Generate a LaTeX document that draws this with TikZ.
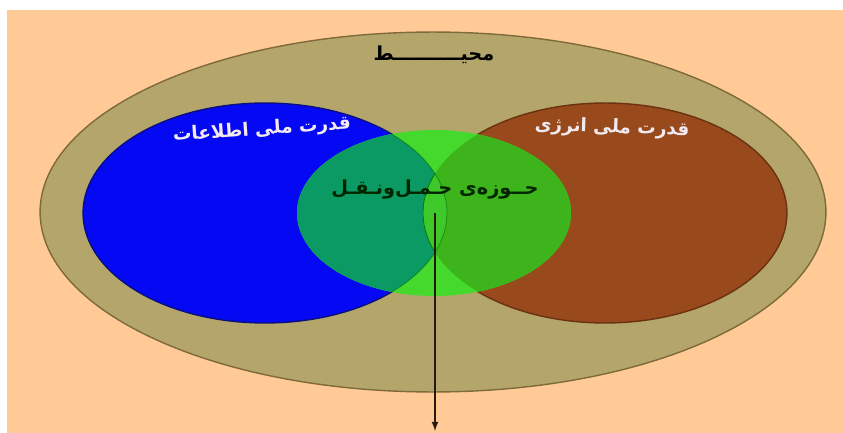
\documentclass[tikz,border=0pt]{standalone}
\usepackage{fontspec}
\TeXXeTstate=1
\newfontfamily\arabicfont[Script=Arabic]{DejaVu Sans}

\definecolor{peach}{HTML}{FFCA96}
\definecolor{envfill}{HTML}{B4A56B}
\definecolor{envedge}{HTML}{7E6A3A}
\definecolor{infoblue}{HTML}{0508F2}
\definecolor{infoedge}{HTML}{0A0F80}
\definecolor{energybrown}{HTML}{984A1C}
\definecolor{energyedge}{HTML}{6A3210}
\definecolor{transgreen}{HTML}{45D92E}
\definecolor{infogreen}{HTML}{0C9A64}
\definecolor{energygreen}{HTML}{3DB41B}
\definecolor{whitetext}{HTML}{F2EAF0}

\tikzset{
  label/.style={font=\arabicfont\bfseries\fontsize{11}{13}\selectfont, inner sep=1pt},
  powerlabel/.style={label, font=\arabicfont\bfseries\fontsize{10.5}{12}\selectfont, text=whitetext},
}

\begin{document}
\begin{tikzpicture}[x=0.02cm,y=-0.02cm]
    \useasboundingbox (0,0) rectangle (843,433);
    \fill[white] (0,0) rectangle (843,433);
    \fill[peach] (7,10) rectangle (843,433);
    % environment
    \filldraw[fill=envfill,draw=envedge,thick] (433,212) ellipse [x radius=7.86cm,y radius=3.6cm];
    % the two national powers
    \filldraw[fill=infoblue,draw=infoedge,thick] (265,213) ellipse [x radius=3.64cm,y radius=2.2cm];
    \filldraw[fill=energybrown,draw=energyedge,thick] (605,213) ellipse [x radius=3.64cm,y radius=2.2cm];
    % transport domain
    \fill[transgreen] (434,213) ellipse [x radius=2.74cm,y radius=1.66cm];
    \begin{scope}
      \clip (434,213) ellipse [x radius=2.74cm,y radius=1.66cm];
      \fill[infogreen] (265,213) ellipse [x radius=3.64cm,y radius=2.2cm];
      \fill[energygreen] (605,213) ellipse [x radius=3.64cm,y radius=2.2cm];
      \begin{scope}
        \clip (265,213) ellipse [x radius=3.64cm,y radius=2.2cm];
        \filldraw[fill=transgreen!92!black,draw=green!45!black,thin] (605,213) ellipse [x radius=3.64cm,y radius=2.2cm];
      \end{scope}
      \draw[green!40!black,thin,opacity=.6] (265,213) ellipse [x radius=3.64cm,y radius=2.2cm];
    \end{scope}

    \node[label] (env) at (434,55) {\arabicfont\beginR محیــــــــــط\endR};
    \node[powerlabel,rotate=4] (info) at (262,130) {\arabicfont\beginR قدرت ملی اطلاعات\endR};
    \node[powerlabel,rotate=-2] (energy) at (612,128) {\arabicfont\beginR قدرت ملی انرژی\endR};
    \node[label,text=black!85!green] (trans) at (435,190) {\arabicfont\beginR حــوزه‌ی حـمـل‌ونـقـل\endR};

    \coordinate (dot) at (435,213);
    \coordinate (below) at (435,431);
    \fill[black!70!green] (dot) circle (0.05);
    \draw[-latex,black!80!brown,thick] (dot) -- (below);
\end{tikzpicture}
\end{document}
